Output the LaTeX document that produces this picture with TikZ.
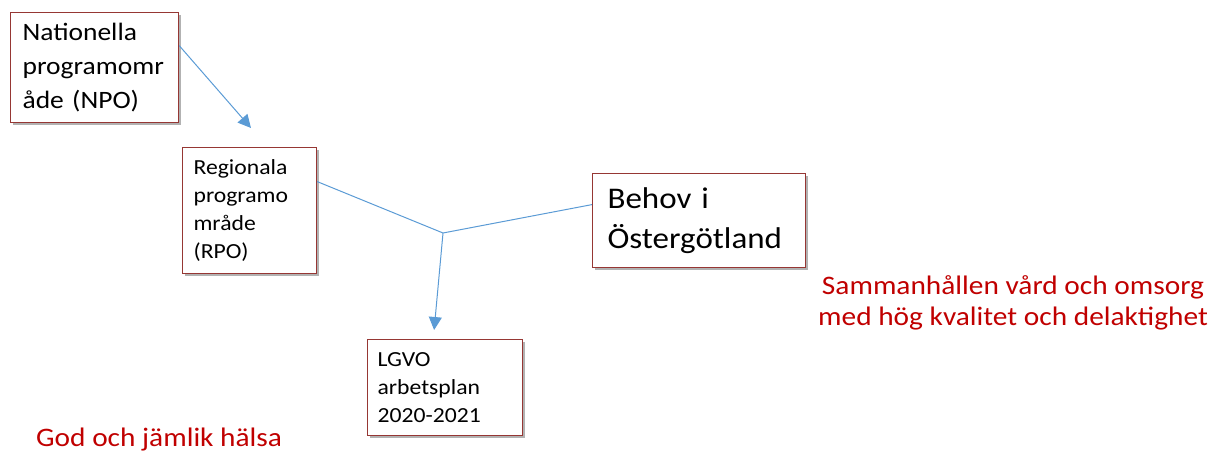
\documentclass[tikz,border=0pt]{standalone}
\usepackage{fontspec}
\setmainfont{Carlito}[FakeStretch=1.1]
\usetikzlibrary{arrows.meta, shadows}

\definecolor{boxred}{RGB}{150,55,52}
\definecolor{linkblue}{RGB}{91,155,213}
\definecolor{goalred}{RGB}{192,0,0}

\tikzset{
  progbox/.style = {draw = boxred, line width = 1.2pt, fill = white,
    anchor = north west, align = left, inner ysep = 0pt,
    drop shadow = {shadow xshift = 2.5pt, shadow yshift = -2.5pt,
      opacity = 0.3, fill = black}},
  link/.style = {-, draw = linkblue, line width = 1pt},
  linkarrow/.style = {link, -{Triangle[length = 13pt, width = 13pt]}},
  goal/.style = {text = goalred, inner sep = 0pt,
    font = \fontsize{26.7}{31}\selectfont}
}

\begin{document}
\begin{tikzpicture}[x = 1pt, y = -1pt]
  \hyphenpenalty = 10000
  \useasboundingbox (0, 0) rectangle (1212, 454);

  % boxes
  % -----
  \node [progbox, inner xsep = 12pt, text width = 144pt, minimum height = 110pt,
    font = \fontsize{25}{34}\selectfont]
    (npo) at (10, 12) {Nationella\\programomr\\åde (NPO)};
  \node [progbox, inner xsep = 11pt, text width = 112pt, minimum height = 126pt,
    font = \fontsize{21.5}{28}\selectfont]
    (rpo) at (182, 147) {Regionala\\programo\\mråde\\(RPO)};
  \node [progbox, inner xsep = 15pt, text width = 183pt, minimum height = 94pt,
    font = \fontsize{30}{40}\selectfont]
    (behov) at (592, 173) {Behov i\\Östergötland};
  \node [progbox, inner xsep = 10pt, text width = 135pt, minimum height = 96pt,
    font = \fontsize{21.5}{28}\selectfont]
    (lgvo) at (367, 339) {LGVO\\arbetsplan\\2020-2021};

  % connectors
  % ----------
  \coordinate (npotip) at (251, 128);
  \coordinate (junction) at (443, 233);

  \draw [linkarrow] ([yshift = 22pt]npo.east) -- (npotip);
  \draw [link] ([yshift = 29pt]rpo.east) -- (junction);
  \draw [link] ([yshift = 16pt]behov.west) -- (junction);
  \draw [linkarrow] (junction) -- ([xshift = -11pt, yshift = 9pt]lgvo.north);

  % goals
  % -----
  \node [goal, align = center, anchor = north] (vard) at (1013, 275)
    {Sammanhållen vård och omsorg\\med hög kvalitet och delaktighet};
  \node [goal, anchor = base west] (halsa) at (36, 446) {God och jämlik hälsa};
\end{tikzpicture}
\end{document}
